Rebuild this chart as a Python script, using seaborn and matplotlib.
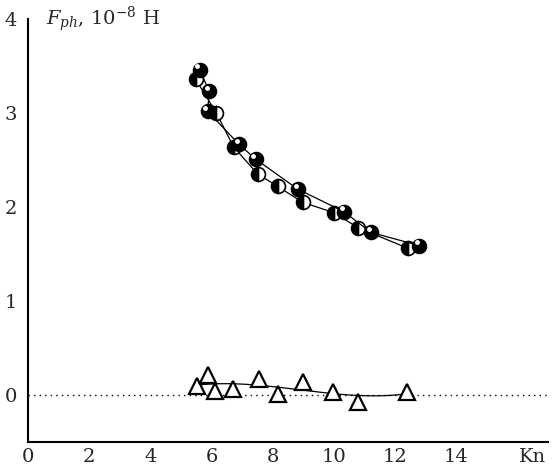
import numpy as np
import matplotlib
matplotlib.use("Agg")
import matplotlib.pyplot as plt
import matplotlib.transforms as mtransforms
import seaborn as sns

# solid (black) circles
kn_black = [5.61, 5.93, 5.87, 6.89, 7.44, 8.82, 10.33, 11.21, 12.79]
f_black = [3.46, 3.23, 3.02, 2.67, 2.51, 2.19, 1.95, 1.73, 1.59]

# half-filled circles
kn_half = [5.48, 6.16, 6.72, 7.51, 8.16, 8.98, 10.00, 10.79, 12.43]
f_half = [3.36, 3.00, 2.64, 2.35, 2.22, 2.05, 1.94, 1.78, 1.56]

# triangles
kn_tri = [5.51, 5.87, 6.13, 6.69, 7.54, 8.16, 8.98, 9.97, 10.79, 12.39]
f_tri = [0.10, 0.21, 0.04, 0.06, 0.17, 0.01, 0.14, 0.03, -0.07, 0.03]

x_ticks = [0, 2, 4, 6, 8, 10, 12, 14, 16]
x_labels = ["0", "2", "4", "6", "8", "10", "12", "14", ""]
y_ticks = [0, 1, 2, 3, 4]

sns.set_style("white")
plt.rcParams["font.family"] = ["DejaVu Serif"]
plt.rcParams["mathtext.fontset"] = "dejavuserif"

fig = plt.figure(figsize=(5.53, 4.66), dpi=100)
ax = fig.add_axes([0.0506, 0.0515, 0.9403, 0.9077])

ax.axhline(0, color="black", lw=1, ls=(0, (1, 3)), zorder=1)

# smooth trend through the triangles
coef = np.polyfit(kn_tri, f_tri, 3)
xs = np.linspace(min(kn_tri), max(kn_tri), 200)
sns.lineplot(x=xs, y=np.polyval(coef, xs), color="black", lw=0.9, ax=ax,
             estimator=None, sort=False, zorder=2)
sns.lineplot(x=kn_tri, y=f_tri, color="black", lw=0, marker="^", ms=11,
             markerfacecolor="white", markeredgecolor="black",
             markeredgewidth=1.6, estimator=None, sort=False, ax=ax, zorder=3)

sns.lineplot(x=kn_half, y=f_half, color="black", lw=0.9, marker="o", ms=10,
             fillstyle="left", markerfacecolor="black", markerfacecoloralt="white",
             markeredgecolor="black", markeredgewidth=1.2,
             estimator=None, sort=False, ax=ax, zorder=3)
sns.lineplot(x=kn_black, y=f_black, color="black", lw=0.9, marker="o", ms=10,
             markerfacecolor="black", markeredgecolor="black", markeredgewidth=1.2,
             estimator=None, sort=False, ax=ax, zorder=4)
# small highlights on the black spheres
shine = mtransforms.offset_copy(ax.transData, fig=fig, x=-1.5, y=2.5, units="points")
ax.plot(kn_black, f_black, ls="none", marker="o", ms=2.5, color="white",
        transform=shine, zorder=5)

ax.set_xlim(0, 17)
ax.set_ylim(-0.5, 4)
ax.set_xticks(x_ticks)
ax.set_xticklabels(x_labels)
ax.set_xticks(range(1, 17, 2), minor=True)
ax.set_yticks(y_ticks)
ax.set_yticks([0.5, 1.5, 2.5, 3.5], minor=True)
ax.tick_params(which="both", direction="in", width=1.2, labelsize=14, pad=4,
               color="black")
ax.tick_params(which="major", length=7)
ax.tick_params(which="minor", length=4)
ax.tick_params(axis="y", pad=8)

for side in ["top", "right"]:
    ax.spines[side].set_visible(False)
for side in ["left", "bottom"]:
    ax.spines[side].set_linewidth(1.5)
    ax.spines[side].set_color("black")

ax.text(16.5, -0.5, "Kn", fontsize=14, ha="center", va="top",
        transform=mtransforms.offset_copy(ax.transData, fig=fig, y=-4, units="points"))
ax.text(0.6, 4.0, r"$F_{ph}$, 10$^{-8}$ H", fontsize=14, va="center", ha="left")
ax.set_xlabel("")
ax.set_ylabel("")

fig.savefig("out.png", dpi=100)
